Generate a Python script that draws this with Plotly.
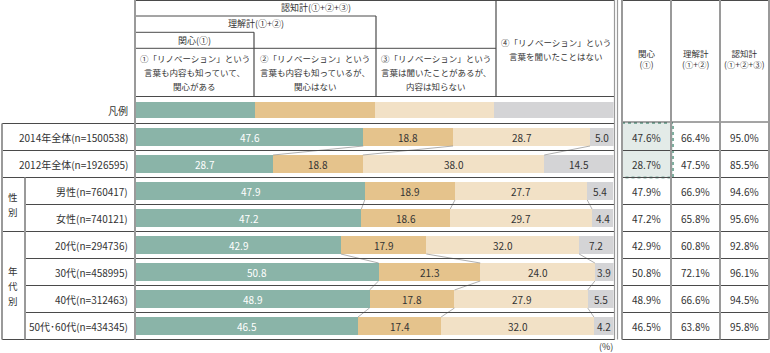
import plotly.graph_objects as go

W, H = 770, 353
FONT = "Noto Sans CJK JP"

# ---------------- data ----------------
row_labels = ["2014年全体(n=1500538)", "2012年全体(n=1926595)", "男性(n=760417)", "女性(n=740121)",
              "20代(n=294736)", "30代(n=458995)", "40代(n=312463)", "50代･60代(n=434345)"]
legend_label = "凡例"
series_names = ["①関心がある", "②関心はない", "③内容は知らない", "④聞いたことはない"]
s1 = [47.6, 28.7, 47.9, 47.2, 42.9, 50.8, 48.9, 46.5]
s2 = [18.8, 18.8, 18.9, 18.6, 17.9, 21.3, 17.8, 17.4]
s3 = [28.7, 38.0, 27.7, 29.7, 32.0, 24.0, 27.9, 32.0]
s4 = [5.0, 14.5, 5.4, 4.4, 7.2, 3.9, 5.5, 4.2]
legend_share = [25, 25, 25, 25]
tbl_interest = [47.6, 28.7, 47.9, 47.2, 42.9, 50.8, 48.9, 46.5]
tbl_understand = [66.4, 47.5, 66.9, 65.8, 60.8, 72.1, 66.6, 63.8]
tbl_aware = [95.0, 85.5, 94.6, 95.6, 92.8, 96.1, 94.5, 95.8]
connect_pairs = [(0, 1), (2, 3), (4, 5), (5, 6), (6, 7)]

col_heads = [["①「リノベーション」という", "言葉も内容も知っていて、", "関心がある"],
             ["②「リノベーション」という", "言葉も内容も知っているが、", "関心はない"],
             ["③「リノベーション」という", "言葉は聞いたことがあるが、", "内容は知らない"],
             ["④「リノベーション」という", "言葉を聞いたことはない"]]
tbl_heads = ["関心<br>(①)", "理解計<br>(①+②)", "認知計<br>(①+②+③)"]

colors = ["#8ab4a8", "#e5c38c", "#f2e1c6", "#d4d4d6"]
txt_colors = ["white", "#333333", "#333333", "#333333"]

cats = [legend_label] + row_labels
series = [s1, s2, s3, s4]

def X(px):
    return px / W

def Y(px):
    return 1 - px / H

fig = go.Figure()
for k, (vals, col) in enumerate(zip(series, colors)):
    xs = [legend_share[k]] + vals
    widths = [0.6] + [0.667] * len(vals)
    fig.add_trace(go.Bar(
        y=cats, x=xs, orientation="h", name=series_names[k],
        marker=dict(color=col, line=dict(width=0)),
        width=widths, hoverinfo="skip"))

shapes = []
def line(x0, y0, x1, y1, color="#444444", width=1):
    shapes.append(dict(type="line", xref="paper", yref="paper", x0=X(x0), y0=Y(y0), x1=X(x1), y1=Y(y1),
                       line=dict(color=color, width=width)))

ann = []
def text(x, y, s, size=9, anchor="center", color="#333333", xref="paper", yref="paper"):
    ann.append(dict(x=x, y=y, xref=xref, yref=yref, text=s, showarrow=False,
                    xanchor=anchor, yanchor="middle",
                    font=dict(family=FONT, size=size, color=color)))

# segment value labels at segment midpoints on the data scale
for i, lab in enumerate(row_labels):
    cum = 0
    for k, vals in enumerate(series):
        v = vals[i]
        text(cum + v / 2, lab, f"{v:.1f}", 10, color=txt_colors[k], xref="x", yref="y")
        cum += v

# connectors between segment boundaries
hw = 0.333
for a, b in connect_pairs:
    cum_a = [sum(s[a] for s in series[:j + 1]) for j in range(3)]
    cum_b = [sum(s[b] for s in series[:j + 1]) for j in range(3)]
    for j in range(3):
        shapes.append(dict(type="line", xref="x", yref="y",
                           x0=cum_a[j], y0=a + 1 + hw, x1=cum_b[j], y1=b + 1 - hw,
                           line=dict(color="#9a9a9a", width=0.8)))

# dotted highlight box in right table
shapes.append(dict(type="rect", xref="paper", yref="paper", x0=X(622), x1=X(673), y0=Y(123), y1=Y(177.5),
                   fillcolor="#e3ebe8", line=dict(color="#7fae9f", width=2, dash="dot"), layer="below"))

# header grid
dark = "#4a4a4a"
grey = "#9a9a9a"
line(135, 0.5, 615, 0.5, dark, 1)
line(135, 16, 376, 16, dark, 1)
line(135, 32.3, 254, 32.3, dark, 1)
line(135, 48.3, 496, 48.3, dark, 1)
line(135, 96.5, 615, 96.5, dark, 1)
line(254, 32.3, 254, 96.5, dark, 1.2)
line(376, 16, 376, 96.5, dark, 1.2)
line(496, 0, 496, 96.5, dark, 1.2)

# rows grid
for k in range(9):
    y = 123.5 + 27 * k
    x0 = 25 if k in (3, 5, 6, 7) else 2
    line(x0, y, 615, y, dark, 1)
    line(622, y if k > 0 else 122, 769, y if k > 0 else 122, dark, 1)
line(622, 0.5, 769, 0.5, dark, 1)

# verticals
line(135, 0, 135, 339.5, grey, 2)
line(2, 123.5, 2, 339.5, grey, 2)
line(25, 177.5, 25, 339.5, grey, 2)
line(614.5, 0, 614.5, 339.5, grey, 1.2)
line(617.5, 0, 617.5, 339.5, grey, 1.2)
for xv in (622, 671, 720, 769):
    line(xv, 0, xv, 339.5, grey, 2)

text(X(315.5), Y(7.5), "認知計(①+②+③)", 9)
text(X(255.5), Y(24), "理解計(①+②)", 9)
text(X(194.5), Y(40.5), "関心(①)", 9)
centers = [194.5, 315, 436, 555.5]
for c, lines in zip(centers, col_heads):
    ys = [58, 72, 86] if len(lines) == 3 else [42, 55.5]
    for yy, s in zip(ys, lines):
        text(X(c), Y(yy), s, 8.5)

tcent = [646.5, 695.5, 744.5]
for c, s in zip(tcent, tbl_heads):
    text(X(c), Y(58), s, 8.5)

# left labels
for lab in cats:
    text(X(130), lab, lab, 10, anchor="right", yref="y")
for ch, yy in zip("性別", (196.5, 211.5)):
    text(X(13), Y(yy), ch, 9.5)
for ch, yy in zip("年代別", (270.5, 285.5, 300.5)):
    text(X(13), Y(yy), ch, 9.5)

# right table values
for i, lab in enumerate(row_labels):
    for c, arr in zip(tcent, (tbl_interest, tbl_understand, tbl_aware)):
        text(X(c), lab, f"{arr[i]:.1f}%", 10, yref="y")

text(X(615), Y(346.5), "(%)", 9, anchor="right")

fig.update_layout(
    width=W, height=H, margin=dict(l=0, r=0, t=0, b=0),
    paper_bgcolor="white", plot_bgcolor="white",
    barmode="stack", bargap=0, showlegend=False,
    xaxis=dict(domain=[136 / W, 613.5 / W], range=[0, 100], visible=False, fixedrange=True),
    yaxis=dict(domain=[0, 1], type="category", categoryorder="array", categoryarray=cats,
               range=[9.0, -4.074], visible=False, fixedrange=True),
    shapes=shapes, annotations=ann,
    font=dict(family=FONT),
)
fig.write_html("out.html")
